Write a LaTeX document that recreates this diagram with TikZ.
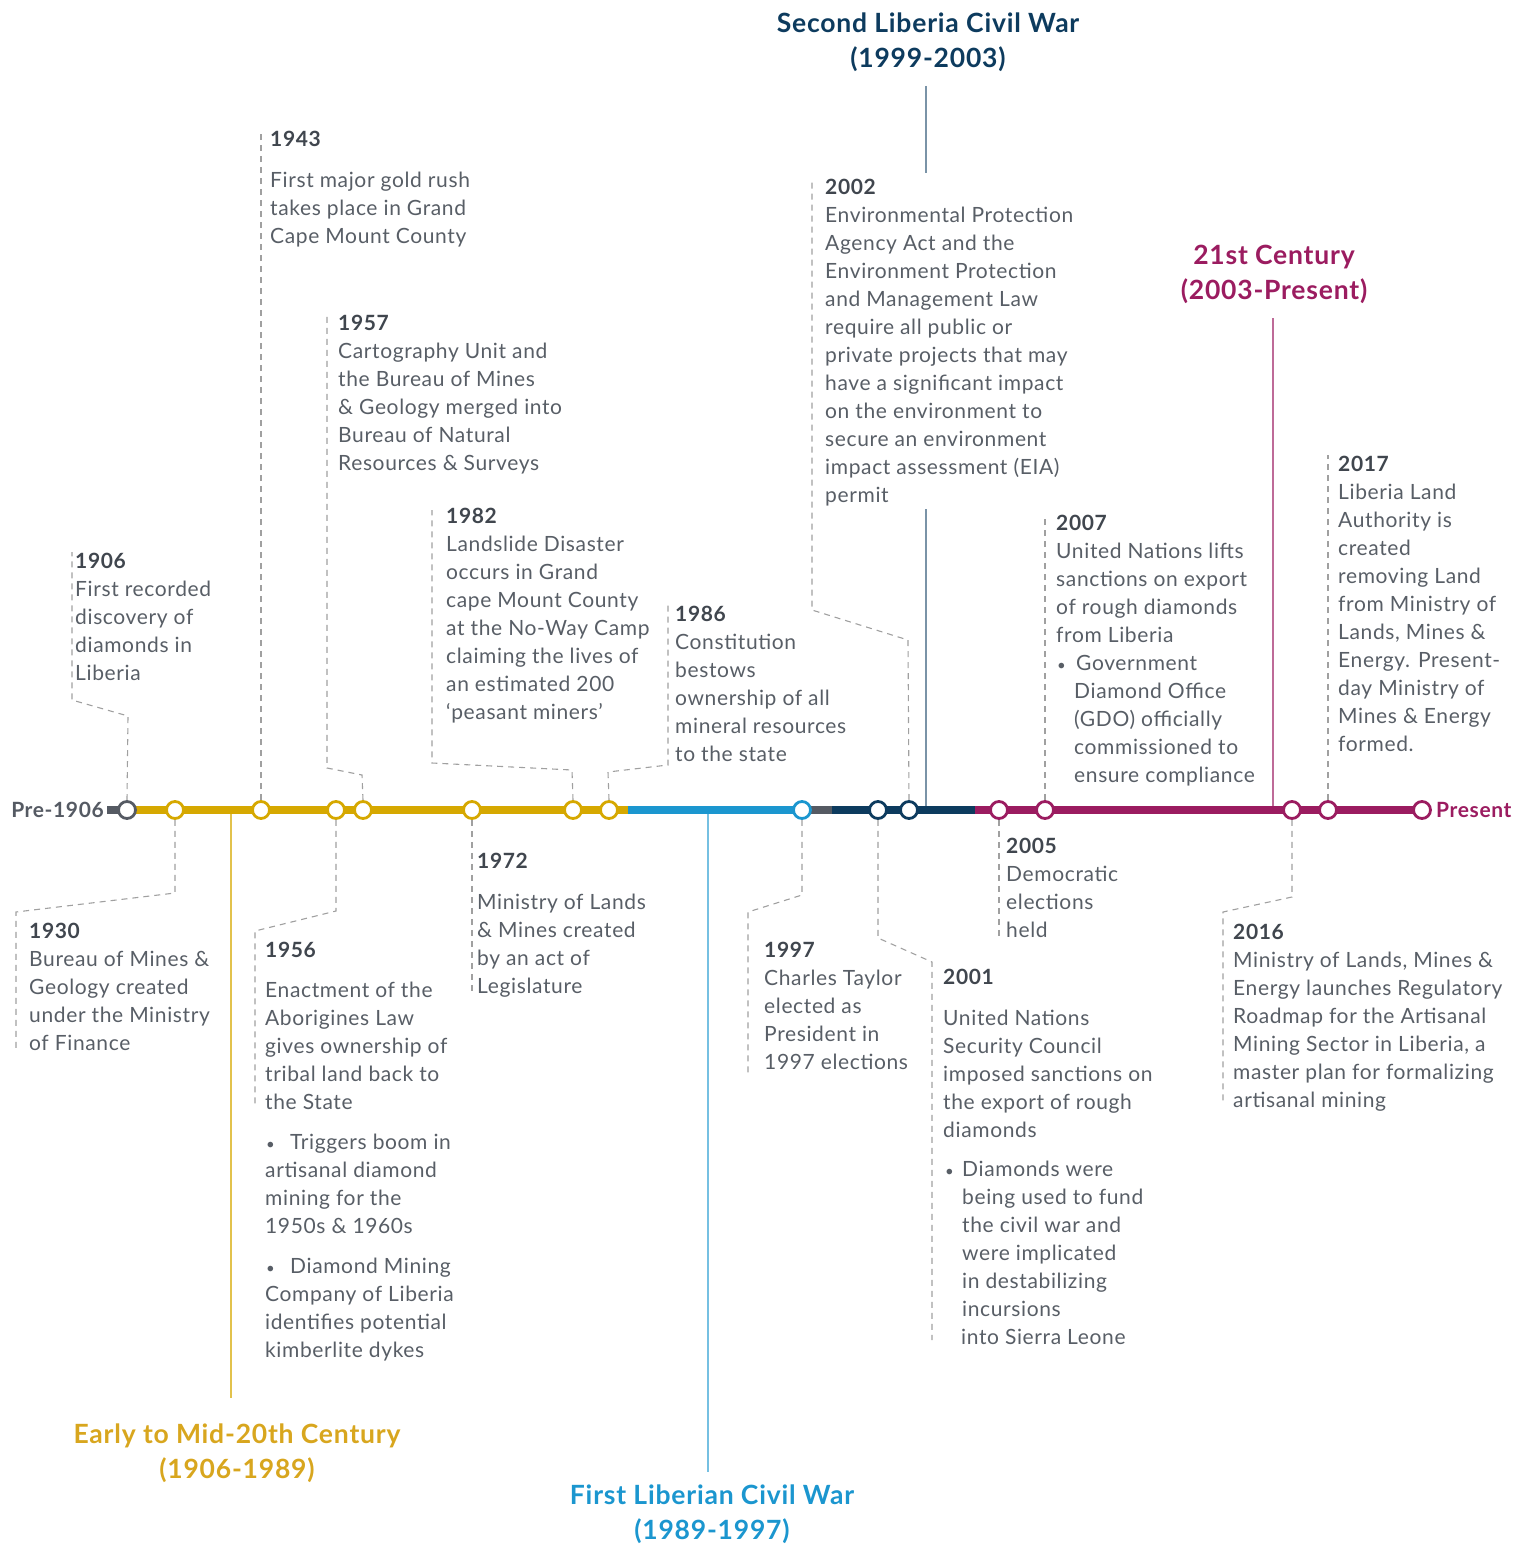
\documentclass[tikz,border=0pt]{standalone}
\usepackage{fontspec}
\setmainfont{Lato}[LetterSpace=3]
\definecolor{gold}{RGB}{214,168,0}
\definecolor{goldt}{RGB}{216,166,30}
\definecolor{skyb}{RGB}{27,150,207}
\definecolor{navy}{RGB}{13,59,94}
\definecolor{segg}{RGB}{85,90,99}
\definecolor{mag}{RGB}{155,28,96}
\definecolor{bodygrey}{RGB}{88,94,102}
\definecolor{yeargrey}{RGB}{64,70,78}
\definecolor{dashgrey}{RGB}{160,160,160}
\newcommand\evfont{\fontsize{21}{28}\selectfont}
\newcommand\ttlfont{\fontsize{26.5}{35}\selectfont\bfseries}
\newcommand\yr[1]{{\color{yeargrey}\bfseries #1}}
\newcommand\evbul[2]{\makebox[#1][l]{\hspace*{#2}{\fontsize{15}{28}\selectfont\textbullet}}}
\begin{document}
\begin{tikzpicture}[x=1pt,y=-1pt,
  ax/.style={line width=8pt},
  dot/.style={circle,draw,line width=2.8pt,fill=white,minimum size=17pt,inner sep=0pt},
  dl/.style={draw=dashgrey,line width=1.1pt,dash pattern=on 6pt off 5pt},
  evt/.style={anchor=north west,inner sep=0pt,align=left,text=bodygrey,font=\evfont},
  per/.style={line width=1.3pt},
  ttl/.style={anchor=north,align=center,font=\ttlfont,inner sep=0pt}]
\useasboundingbox (0,0) rectangle (1520,1544);

% ---------- period lines ----------
\draw[per,gold!70] (231,810) -- (231,1398);
\draw[per,skyb!60] (708,810) -- (708,1472);
\draw[per,navy!55] (926,86) -- (926,173);
\draw[per,navy!55] (926,509) -- (926,810);
\draw[per,mag!65] (1273,318) -- (1273,810);

% ---------- period titles ----------
\node[ttl,text=navy] (tSecond) at (928,13) {Second Liberia Civil War\\(1999-2003)};
\node[ttl,text=mag] (tTwentyFirst) at (1274,245) {21st Century\\(2003-Present)};
\node[ttl,text=goldt] (tEarly) at (237,1424) {Early to Mid-20th Century\\(1906-1989)};
\node[ttl,text=skyb] (tFirst) at (712,1485) {First Liberian Civil War\\(1989-1997)};

% ---------- axis ----------
\fill[segg] (107,806) rectangle (121,814);
\draw[ax,gold] (127,810) -- (628,810);
\draw[ax,skyb] (628,810) -- (806,810);
\draw[ax,segg] (806,810) -- (832,810);
\draw[ax,navy] (832,810) -- (975,810);
\draw[ax,mag] (975,810) -- (1422,810);

\node[anchor=east,inner sep=0pt,font=\fontsize{21}{24}\selectfont\bfseries,text=segg] (lPre) at (104,810) {Pre-1906};
\node[anchor=west,inner sep=0pt,font=\fontsize{21}{24}\selectfont\bfseries,text=mag] (lPresent) at (1436,810) {Present};

\node[dot,draw=segg] (c1906) at (127,810) {};
\node[dot,draw=gold] (c1930) at (175,810) {};
\node[dot,draw=gold] (c1943) at (261,810) {};
\node[dot,draw=gold] (c1956) at (336,810) {};
\node[dot,draw=gold] (c1957) at (363,810) {};
\node[dot,draw=gold] (c1972) at (472,810) {};
\node[dot,draw=gold] (c1982) at (573,810) {};
\node[dot,draw=gold] (c1986) at (609,810) {};
\node[dot,draw=skyb] (c1997) at (802,810) {};
\node[dot,draw=navy] (c2001) at (878,810) {};
\node[dot,draw=navy] (c2002) at (909,810) {};
\node[dot,draw=mag] (c2005) at (999,810) {};
\node[dot,draw=mag] (c2007) at (1045,810) {};
\node[dot,draw=mag] (c2016) at (1292,810) {};
\node[dot,draw=mag] (c2017) at (1328,810) {};
\node[dot,draw=mag] (cPresent) at (1422,810) {};

% ---------- events above ----------
\node[evt] (e1906) at (75,553) {\yr{1906}\\First recorded\\discovery of\\diamonds in\\Liberia};
\node[evt] (e1943) at (270,131) {\yr{1943}\\[13pt]First major gold rush\\takes place in Grand\\Cape Mount County};
\node[evt] (e1957) at (338,315) {\yr{1957}\\Cartography Unit and\\the Bureau of Mines\\\& Geology merged into\\Bureau of Natural\\Resources \& Surveys};
\node[evt] (e1982) at (446,508) {\yr{1982}\\Landslide Disaster\\occurs in Grand\\cape Mount County\\at the No-Way Camp\\claiming the lives of\\an estimated 200\\‘peasant miners’};
\node[evt] (e1986) at (675,606) {\yr{1986}\\Constitution\\bestows\\ownership of all\\mineral resources\\to the state};
\node[evt] (e2002) at (825,179) {\yr{2002}\\Environmental Protection\\Agency Act and the\\Environment Protection\\and Management Law\\require all public or\\private projects that may\\have a significant impact\\on the environment to\\secure an environment\\impact assessment (EIA)\\permit};
\node[evt] (e2007) at (1056,515) {\yr{2007}\\United Nations lifts\\sanctions on export\\of rough diamonds\\from Liberia\\\evbul{20pt}{1pt}Government\\\hspace*{18pt}Diamond Office\\\hspace*{18pt}(GDO) officially\\\hspace*{18pt}commissioned to\\\hspace*{18pt}ensure compliance};
\node[evt] (e2017) at (1338,456) {\yr{2017}\\Liberia Land\\Authority is\\created\\removing Land\\from Ministry of\\Lands, Mines \&\\Energy. Present-\\day Ministry of\\Mines \& Energy\\formed.};

% ---------- events below ----------
\node[evt] (e1930) at (29,923) {\yr{1930}\\Bureau of Mines \&\\Geology created\\under the Ministry\\of Finance};
\node[evt] (e1956) at (265,942) {\yr{1956}\\[12pt]Enactment of the\\Aborigines Law\\gives ownership of\\tribal land back to\\the State\\[12pt]\evbul{25pt}{1pt}Triggers boom in\\artisanal diamond\\mining for the\\1950s \& 1960s\\[12pt]\evbul{25pt}{1pt}Diamond Mining\\Company of Liberia\\identifies potential\\kimberlite dykes};
\node[evt] (e1972) at (477,853) {\yr{1972}\\[13pt]Ministry of Lands\\\& Mines created\\by an act of\\Legislature};
\node[evt] (e1997) at (764,942) {\yr{1997}\\Charles Taylor\\elected as\\President in\\1997 elections};
\node[evt] (e2001) at (943,969) {\yr{2001}\\[13pt]United Nations\\Security Council\\imposed sanctions on\\the export of rough\\diamonds\\[11pt]\evbul{19pt}{2pt}Diamonds were\\\hspace*{19pt}being used to fund\\\hspace*{19pt}the civil war and\\\hspace*{19pt}were implicated\\\hspace*{19pt}in destabilizing\\\hspace*{19pt}incursions\\\hspace*{18pt}into Sierra Leone};
\node[evt] (e2005) at (1006,838) {\yr{2005}\\Democratic\\elections\\held};
\node[evt] (e2016) at (1233,924) {\yr{2016}\\Ministry of Lands, Mines \&\\Energy launches Regulatory\\Roadmap for the Artisanal\\Mining Sector in Liberia, a\\master plan for formalizing\\artisanal mining};

% ---------- dashed connectors ----------
\draw[dl] (c1906.north) -- (128,716) -- (72,700) -- (72,552);
\draw[dl] (c1943.north) -- (261,130);
\draw[dl] (c1957.north) -- (362,775) -- (327,768) -- (327,315);
\draw[dl] (c1982.north) -- (572,770) -- (432,763) -- (432,510);
\draw[dl] (c1986.north) -- (608,772) -- (668,765) -- (668,605);
\draw[dl] (c2002.north) -- (908,640) -- (812,610) -- (812,180);
\draw[dl] (c2007.north) -- (1045,515);
\draw[dl] (c2017.north) -- (1328,455);

\draw[dl] (c1930.south) -- (175,893) -- (16,912) -- (16,1052);
\draw[dl] (c1956.south) -- (336,911) -- (255,931) -- (255,1105);
\draw[dl] (c1972.south) -- (472,995);
\draw[dl] (c1997.south) -- (802,895) -- (748,912) -- (748,1075);
\draw[dl] (c2001.south) -- (878,938) -- (932,962) -- (932,1340);
\draw[dl] (c2005.south) -- (999,940);
\draw[dl] (c2016.south) -- (1292,897) -- (1223,912) -- (1223,1105);
\end{tikzpicture}
\end{document}
